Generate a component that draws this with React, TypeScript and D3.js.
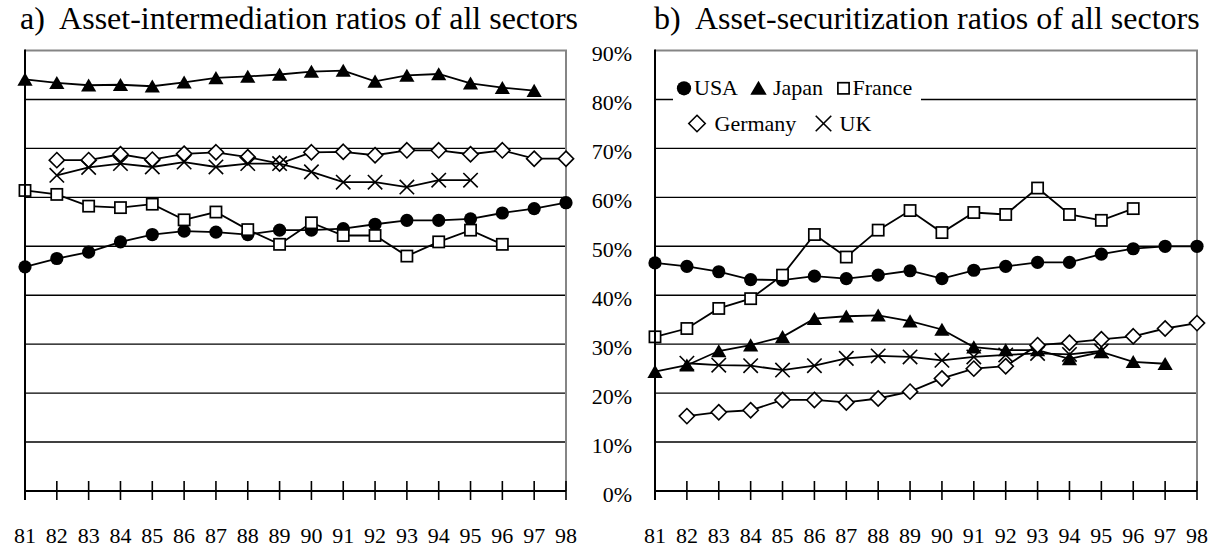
import React from 'react';
import * as d3 from 'd3';

// ---------- data ----------
const years = ['81', '82', '83', '84', '85', '86', '87', '88', '89', '90', '91', '92', '93', '94', '95', '96', '97', '98'];
const yTicks = [0, 10, 20, 30, 40, 50, 60, 70, 80, 90];

// a) Asset-intermediation ratios
const interUSA = [45.8, 47.5, 48.8, 50.9, 52.4, 53.1, 52.9, 52.4, 53.3, 53.3, 53.6, 54.5, 55.3, 55.3, 55.6, 56.8, 57.7, 58.9];
const interJapan = [84.1, 83.4, 82.9, 83.0, 82.7, 83.5, 84.4, 84.7, 85.1, 85.7, 85.9, 83.7, 84.9, 85.2, 83.3, 82.4, 81.8, null];
const interFrance = [61.4, 60.6, 58.2, 57.9, 58.6, 55.4, 57.0, 53.4, 50.4, 54.8, 52.2, 52.2, 48.0, 50.9, 53.3, 50.4, null, null];
const interGermany = [null, 67.6, 67.6, 68.8, 67.7, 68.9, 69.2, 68.2, 66.9, 69.2, 69.3, 68.6, 69.6, 69.6, 68.8, 69.6, 67.9, 67.9];
const interUK = [null, 64.5, 66.1, 66.9, 66.2, 67.2, 66.2, 66.9, 66.9, 65.2, 63.1, 63.1, 62.1, 63.5, 63.5, null, null, null];

// b) Asset-securitization ratios
const secUSA = [46.6, 45.9, 44.8, 43.2, 43.1, 43.9, 43.4, 44.1, 45.0, 43.4, 45.1, 45.9, 46.7, 46.7, 48.4, 49.5, 50.0, 50.0];
const secJapan = [24.4, 25.7, 28.6, 29.8, 31.5, 35.2, 35.7, 35.9, 34.7, 33.0, 29.4, 28.8, 28.8, 27.0, 28.4, 26.4, 26.0, null];
const secFrance = [31.5, 33.2, 37.3, 39.3, 44.1, 52.4, 47.8, 53.3, 57.3, 52.8, 56.9, 56.5, 61.9, 56.5, 55.3, 57.7, null, null];
const secGermany = [null, 15.3, 16.1, 16.5, 18.6, 18.6, 18.1, 18.9, 20.3, 23.0, 25.0, 25.5, 29.8, 30.3, 31.0, 31.6, 33.2, 34.3];
const secUK = [null, 26.1, 25.7, 25.6, 24.7, 25.6, 27.1, 27.6, 27.4, 26.7, 27.4, 27.8, 28.1, 27.9, 28.6, null, null, null];

const seriesNames = ['USA', 'Japan', 'France', 'Germany', 'UK'];
const markerTypes = ['circle', 'triangle', 'square', 'diamond', 'cross'];

// ---------- layout ----------
const W = 1222;
const H = 549;
const Y_TOP = 50.5;
const Y_BOTTOM = 491;
const FONT = '"Liberation Serif", "Times New Roman", Times, serif';

const yScale = d3.scaleLinear().domain([0, 90]).range([Y_BOTTOM, Y_TOP]);

type Marker = 'circle' | 'triangle' | 'square' | 'diamond' | 'cross';

function MarkerShape({ type, x, y, big }: { type: Marker; x: number; y: number; big?: boolean }) {
  const k = big ? 1.08 : 1;
  const t = `translate(${x},${y})`;
  if (type === 'circle') return <circle cx={x} cy={y} r={6.6 * k} fill="#000" />;
  if (type === 'triangle')
    return <path transform={t} d={`M0,${-6.8 * k}L${7.6 * k},${6.3 * k}L${-7.6 * k},${6.3 * k}Z`} fill="#000" />;
  if (type === 'square')
    return <rect x={x - 5.6} y={y - 5.6} width={11.2} height={11.2} fill="#fff" stroke="#000" strokeWidth={1.7} />;
  if (type === 'diamond')
    return (
      <path transform={t} d={`M0,${-7.6 * k}L${7.6 * k},0L0,${7.6 * k}L${-7.6 * k},0Z`} fill="#fff" stroke="#000" strokeWidth={1.6} />
    );
  return (
    <path
      transform={t}
      d={`M${-7.2 * k},${-7.2 * k}L${7.2 * k},${7.2 * k}M${-7.2 * k},${7.2 * k}L${7.2 * k},${-7.2 * k}`}
      fill="none"
      stroke="#000"
      strokeWidth={1.6}
    />
  );
}

function Panel({
  x0,
  x1,
  series,
  title,
  titleX,
  showY,
}: {
  x0: number;
  x1: number;
  series: (number | null)[][];
  title: string;
  titleX: number;
  showY: boolean;
}) {
  const xScale = d3.scalePoint<string>().domain(years).range([x0, x1]);
  const line = d3
    .line<number | null>()
    .defined((d) => d !== null)
    .x((_, i) => xScale(years[i]) as number)
    .y((d) => yScale(d as number));

  return (
    <g>
      <text x={titleX} y={28.6} fontFamily={FONT} fontSize={32} fill="#000" style={{ whiteSpace: 'pre' }}>
        {title}
      </text>
      {/* gridlines */}
      {yTicks
        .filter((v) => v > 0 && v < 90)
        .map((v) => (
          <line key={v} x1={x0} x2={x1} y1={yScale(v)} y2={yScale(v)} stroke="#000" strokeWidth={1.4} />
        ))}
      {/* top and right border */}
      <line x1={x0} x2={x1 + 1} y1={yScale(90)} y2={yScale(90)} stroke="#858585" strokeWidth={2} />
      <line x1={x1} x2={x1} y1={yScale(90)} y2={Y_BOTTOM} stroke="#858585" strokeWidth={2} />
      {/* y tick labels */}
      {showY &&
        yTicks.map((v) => (
          <text
            key={v}
            x={x0 - 23}
            y={yScale(v) + 10.5}
            textAnchor="end"
            fontFamily={FONT}
            fontSize={22}
            fill="#000"
          >
            {v}%
          </text>
        ))}
      {/* series */}
      {series.map((vals, si) => (
        <g key={si}>
          <path d={line(vals) || ''} fill="none" stroke="#000" strokeWidth={1.8} />
          {vals.map((v, i) =>
            v === null ? null : (
              <MarkerShape key={i} type={markerTypes[si] as Marker} x={xScale(years[i]) as number} y={yScale(v)} />
            )
          )}
        </g>
      ))}
      {/* axes */}
      <line x1={x0} x2={x1} y1={Y_BOTTOM} y2={Y_BOTTOM} stroke="#000" strokeWidth={2} />
      <line x1={x0} x2={x0} y1={yScale(90) - 1} y2={Y_BOTTOM + 9} stroke="#000" strokeWidth={2} />
      {years.map((yr) => (
        <g key={yr}>
          <line
            x1={xScale(yr) as number}
            x2={xScale(yr) as number}
            y1={Y_BOTTOM - 10}
            y2={Y_BOTTOM + 9}
            stroke="#000"
            strokeWidth={1.6}
          />
          <text x={xScale(yr) as number} y={543} textAnchor="middle" fontFamily={FONT} fontSize={22} fill="#000">
            {yr}
          </text>
        </g>
      ))}
    </g>
  );
}

function Legend() {
  const rows: { type: Marker; mx: number; my: number; tx: number; ty: number; label: string }[] = [
    { type: 'circle', mx: 684, my: 88.3, tx: 694, ty: 95, label: seriesNames[0] },
    { type: 'triangle', mx: 758.5, my: 88, tx: 773, ty: 95, label: seriesNames[1] },
    { type: 'square', mx: 843.5, my: 88.3, tx: 852.5, ty: 95, label: seriesNames[2] },
    { type: 'diamond', mx: 697, my: 123.5, tx: 714.5, ty: 130.5, label: seriesNames[3] },
    { type: 'cross', mx: 823.5, my: 123.5, tx: 839.5, ty: 130.5, label: seriesNames[4] },
  ];
  return (
    <g>
      <rect x={673} y={68} width={248} height={73} fill="#fff" />
      {rows.map((r) => (
        <g key={r.label}>
          <MarkerShape type={r.type} x={r.mx} y={r.my} big />
          <text x={r.tx} y={r.ty} fontFamily={FONT} fontSize={22} fill="#000">
            {r.label}
          </text>
        </g>
      ))}
    </g>
  );
}

export default function App() {
  React.useEffect(() => {
    document.body.style.margin = '0';
  }, []);
  return (
    <svg width={W} height={H} viewBox={`0 0 ${W} ${H}`} style={{ display: 'block', background: '#fff' }}>
      <rect x={0} y={0} width={W} height={H} fill="#fff" />
      <Panel
        x0={25}
        x1={566}
        series={[interUSA, interJapan, interFrance, interGermany, interUK]}
        title="a)  Asset-intermediation ratios of all sectors"
        titleX={20}
        showY={false}
      />
      <Panel
        x0={655}
        x1={1197}
        series={[secUSA, secJapan, secFrance, secGermany, secUK]}
        title="b)  Asset-securitization ratios of all sectors"
        titleX={654}
        showY={true}
      />
      <Legend />
    </svg>
  );
}
